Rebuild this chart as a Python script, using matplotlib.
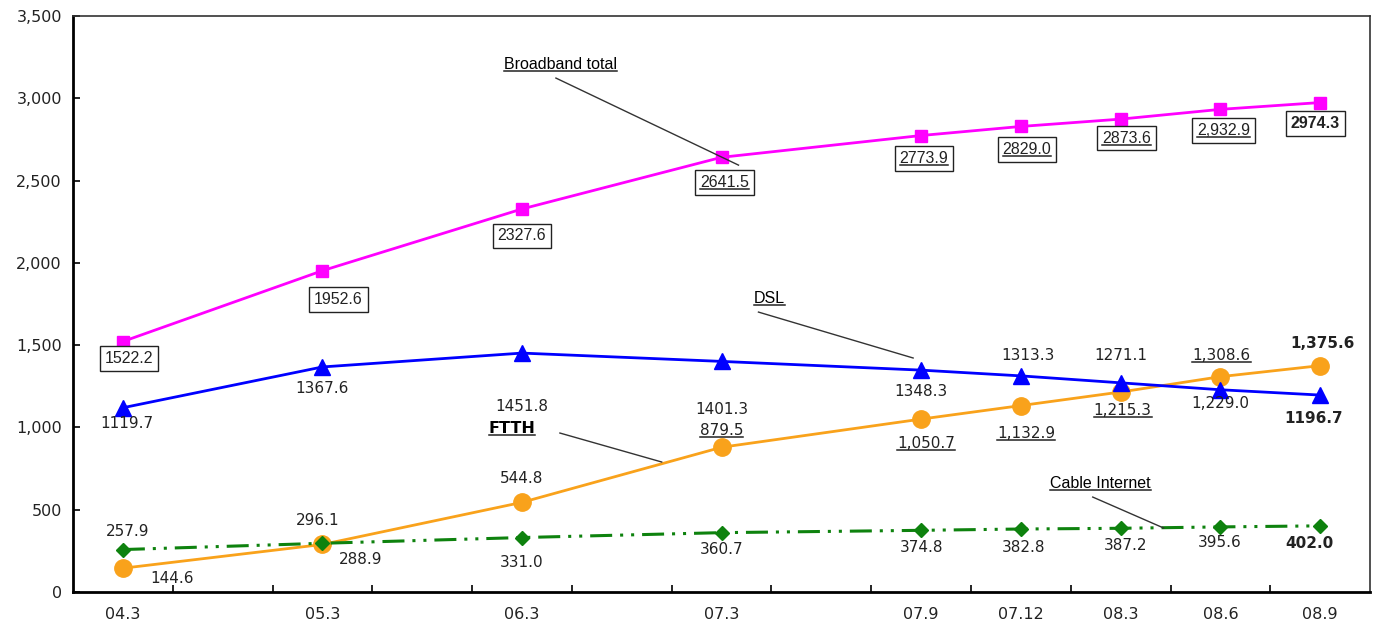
import matplotlib
matplotlib.use("Agg")
import matplotlib.pyplot as plt
from matplotlib.lines import Line2D
import numpy as np

# --- data -------------------------------------------------------------
periods = ["04.3", "05.3", "06.3", "07.3", "07.9", "07.12", "08.3", "08.6", "08.9"]
slots = [0, 2, 4, 6, 8, 9, 10, 11, 12]  # category slots on the x axis

broadband = [1522.2, 1952.6, 2327.6, 2641.5, 2773.9, 2829.0, 2873.6, 2932.9, 2974.3]
dsl = [1119.7, 1367.6, 1451.8, 1401.3, 1348.3, 1313.3, 1271.1, 1229.0, 1196.7]
ftth = [144.6, 288.9, 544.8, 879.5, 1050.7, 1132.9, 1215.3, 1308.6, 1375.6]
cable = [257.9, 296.1, 331.0, 360.7, 374.8, 382.8, 387.2, 395.6, 402.0]

broadband_text = ["1522.2", "1952.6", "2327.6", "2641.5", "2773.9", "2829.0", "2873.6", "2,932.9", "2974.3"]
dsl_text = ["1119.7", "1367.6", "1451.8", "1401.3", "1348.3", "1313.3", "1271.1", "1,229.0", "1196.7"]
ftth_text = ["144.6", "288.9", "544.8", "879.5", "1,050.7", "1,132.9", "1,215.3", "1,308.6", "1,375.6"]
cable_text = ["257.9", "296.1", "331.0", "360.7", "374.8", "382.8", "387.2", "395.6", "402.0"]

y_ticks = [0, 500, 1000, 1500, 2000, 2500, 3000, 3500]

# --- label placement (pixel offsets from each point) -------------------
bb_off = [(6, -17), (16, -29), (0, -27), (3, -25), (3, -23), (6, -23), (6, -19), (3, -21), (-5, -21)]
bb_ul = [False, False, False, True, True, True, True, True, False]
dsl_off = [(4, -16), (0, -22), (0, -53), (0, -48), (0, -21), (7, 20), (0, 27), (0, -14), (-7, -23)]
ftth_off = [(49, -10), (38, -15), (0, 24), (0, 17), (5, -24), (5, -28), (2, -18), (1, 21), (2, 22)]
ftth_ul = [False, False, False, True, True, True, True, True, False]
cable_off = [(5, 18), (-5, 23), (0, -25), (0, -17), (0, -17), (3, -18), (5, -17), (-1, -16), (-11, -18)]

DPI = 100
PX = 72.0 / DPI

NUM_FONT = ["DejaVu Sans"]
BOX_FONT = ["Liberation Sans Narrow", "Liberation Sans", "DejaVu Sans"]
NAME_FONT = ["Liberation Sans", "DejaVu Sans"]
plt.rcParams["font.family"] = NUM_FONT

fig = plt.figure(figsize=(13.77, 6.26), dpi=DPI)
ax = fig.add_axes([0.053, 0.0543, 0.942, 0.9201])

ax.plot(slots, broadband, color="#FF00FF", lw=2, marker="s", ms=9, zorder=4)
ax.plot(slots, dsl, color="#0000FF", lw=2, marker="^", ms=12, zorder=4)
ax.plot(slots, ftth, color="#F9A21B", lw=2, marker="o", ms=12.5, zorder=3)
ax.plot(slots, cable, color="#0E820E", lw=2.2, marker="D", ms=7.5,
        dashes=(7.2, 2.6, 1, 2.6, 1, 2.6), zorder=3)

ax.set_xlim(-0.5, 12.5)
ax.set_ylim(0, 3500)
ax.set_xticks(slots)
ax.set_xticklabels(periods)
ax.set_xticks(np.arange(0.5, 12.0, 1.0), minor=True)
ax.set_yticks(y_ticks)
ax.set_yticklabels([f"{v:,}" for v in y_ticks])
ax.tick_params(axis="x", which="major", length=0, pad=11, labelsize=11.5)
ax.tick_params(axis="x", which="minor", length=5, direction="in", width=1.2)
ax.tick_params(axis="y", length=5, direction="in", width=1.2, pad=8, labelsize=11.5)
for lab in ax.get_xticklabels() + ax.get_yticklabels():
    lab.set_color("#222222")

for side in ("left", "bottom"):
    ax.spines[side].set_linewidth(2)
for side in ("top", "right"):
    ax.spines[side].set_linewidth(1.2)
    ax.spines[side].set_color("#333333")

underlined = []


def put(x, y, text, off, bold=False, box=False, ul=False):
    kw = {}
    if box:
        kw["bbox"] = dict(boxstyle="square,pad=0.3", fc="white", ec="#222222", lw=1)
        fam = BOX_FONT if not bold else NAME_FONT
        size = 11.5
    else:
        fam = NUM_FONT
        size = 11
    t = ax.annotate(text, (x, y), xytext=(off[0] * PX, off[1] * PX),
                    textcoords="offset points", ha="center", va="center",
                    fontsize=size, color="#222222", family=fam,
                    fontweight="bold" if bold else "normal", zorder=6, **kw)
    if ul:
        underlined.append(t)
    return t


last = len(slots) - 1
for i, x in enumerate(slots):
    put(x, broadband[i], broadband_text[i], bb_off[i], bold=(i == last), box=True, ul=bb_ul[i])
    put(x, dsl[i], dsl_text[i], dsl_off[i], bold=(i == last))
    put(x, ftth[i], ftth_text[i], ftth_off[i], bold=(i == last), ul=ftth_ul[i])
    put(x, cable[i], cable_text[i], cable_off[i], bold=(i == last))

# series names with leader lines
names = [
    ("Broadband total", (4.39, 3208), (4.34, 3123), (6.17, 2594), "normal", NAME_FONT),
    ("DSL", (6.48, 1786), (6.37, 1701), (7.92, 1422), "normal", NAME_FONT),
    ("FTTH", (3.90, 996), (4.38, 966), (5.40, 790), "bold", NUM_FONT),
    ("Cable Internet", (9.80, 662), (9.72, 577), (10.43, 389), "normal", NAME_FONT),
]
for name, pos, p0, p1, w, fam in names:
    t = ax.text(pos[0], pos[1], name, ha="center", va="center", fontsize=11.5,
                fontweight=w, family=fam, color="black", zorder=6)
    underlined.append(t)
    ax.plot([p0[0], p1[0]], [p0[1], p1[1]], color="#333333", lw=1, zorder=5)

# underline selected texts
fig.canvas.draw()
renderer = fig.canvas.get_renderer()
inv = fig.transFigure.inverted()
for t in underlined:
    bb = t.get_window_extent(renderer)
    y = bb.y0 + 1
    (x0, yy), (x1, _) = inv.transform([(bb.x0, y), (bb.x1, y)])
    fig.add_artist(Line2D([x0, x1], [yy, yy], color="#222222", lw=1.1, zorder=7))

fig.savefig("out.png", dpi=DPI)
